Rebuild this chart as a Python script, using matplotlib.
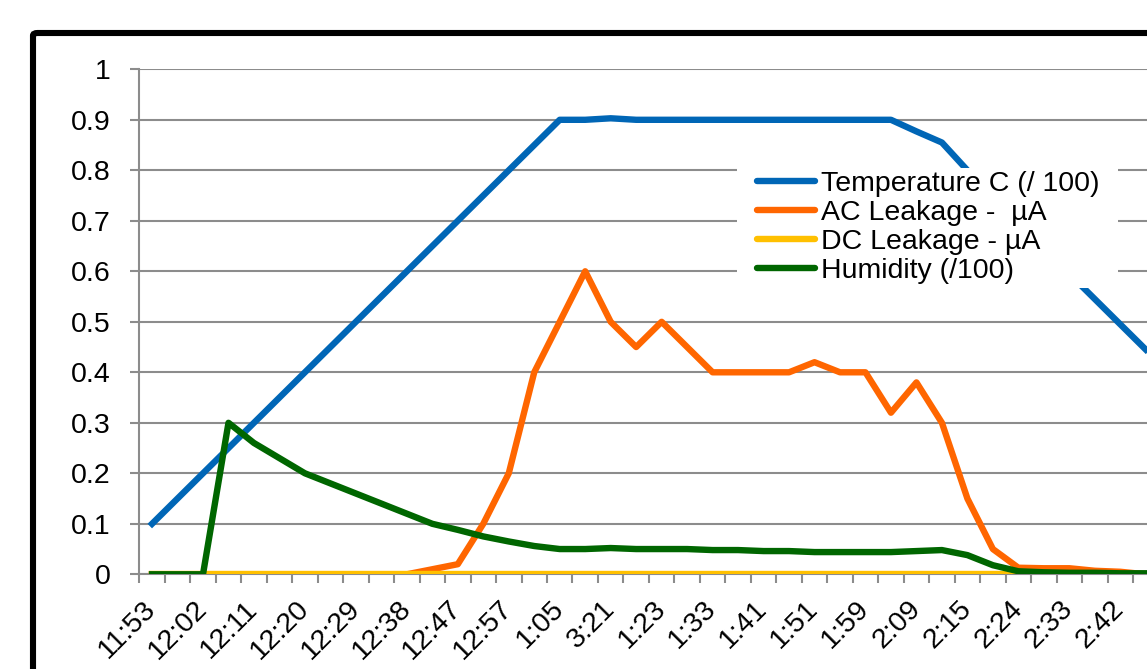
import numpy as np
import matplotlib.pyplot as plt
from matplotlib.patches import FancyBboxPatch, Rectangle

plt.rcParams['font.family'] = ['Liberation Sans', 'DejaVu Sans']

# tick labels, shown on every second reading
time_labels = ['11:53', '12:02', '12:11', '12:20', '12:29', '12:38', '12:47',
               '12:57', '1:05', '3:21', '1:23', '1:33', '1:41', '1:51',
               '1:59', '2:09', '2:15', '2:24', '2:33', '2:42']

temperature = [0.10, 0.15, 0.20, 0.25, 0.30, 0.35, 0.40, 0.45, 0.50, 0.55,
               0.60, 0.65, 0.70, 0.75, 0.80, 0.85, 0.90, 0.90, 0.903, 0.90,
               0.90, 0.90, 0.90, 0.90, 0.90, 0.90, 0.90, 0.90, 0.90, 0.90,
               0.877, 0.855, 0.80, 0.75, 0.70, 0.65, 0.595, 0.545, 0.495, 0.445]
ac_leak = [0, 0, 0, 0, 0, 0, 0, 0, 0, 0,
           0, 0.01, 0.02, 0.10, 0.20, 0.40, 0.50, 0.60, 0.50, 0.45,
           0.50, 0.45, 0.40, 0.40, 0.40, 0.40, 0.42, 0.40, 0.40, 0.32,
           0.38, 0.30, 0.15, 0.05, 0.013, 0.012, 0.012, 0.007, 0.005, 0.0]
dc_leak = [0.0] * 40
humidity = [0, 0, 0, 0.30, 0.26, 0.23, 0.20, 0.18, 0.16, 0.14,
            0.12, 0.10, 0.088, 0.075, 0.065, 0.056, 0.05, 0.05, 0.052, 0.05,
            0.05, 0.05, 0.048, 0.048, 0.046, 0.046, 0.044, 0.044, 0.044, 0.044,
            0.046, 0.048, 0.038, 0.018, 0.006, 0.004, 0.003, 0.003, 0.002, 0.002]

W, H = 1147, 669
fs = 20.5
fig = plt.figure(figsize=(W / 100, H / 100), dpi=100)
fig.patch.set_facecolor('white')

# plot area sits inside a chart frame that runs off the right/bottom edges
ax = fig.add_axes([139.3 / W, 1 - 574.3 / H, 40 * 25.48 / W, 505 / H])

x = np.arange(len(temperature))
lw = 4.6
ax.plot(x, temperature, color='#0066B6', lw=lw, label='Temperature C (/ 100)',
        zorder=3)
ax.plot(x, ac_leak, color='#FF6600', lw=lw, label='AC Leakage -  µA', zorder=3)
ax.plot(x, dc_leak, color='#FFC000', lw=lw, label='DC Leakage - µA', zorder=3)
ax.plot(x, humidity, color='#006600', lw=lw, label='Humidity (/100)', zorder=3)

grey = '#8C8C8C'
ax.set_ylim(0, 1)
ax.set_xlim(-0.5, len(x) - 0.5)
ax.set_yticks(np.arange(0, 1.01, 0.1))
ax.set_yticklabels(['0', '0.1', '0.2', '0.3', '0.4', '0.5', '0.6', '0.7',
                    '0.8', '0.9', '1'])
ax.yaxis.grid(True, color=grey, lw=1.5)
ax.set_axisbelow(True)

ax.set_xticks(np.arange(0, len(x), 2))
ax.set_xticklabels(time_labels, rotation=45, ha='right', va='center',
                   rotation_mode='anchor')
ax.set_xticks(np.arange(-0.5, len(x), 1), minor=True)
ax.tick_params(axis='x', which='major', length=0, pad=22, labelsize=fs)
ax.tick_params(axis='x', which='minor', length=6.5, width=1.5, color=grey,
               direction='out')
ax.tick_params(axis='y', length=6.5, width=1.5, color=grey, pad=14,
               labelsize=fs)

for side in ['top', 'right']:
    ax.spines[side].set_visible(False)
for side in ['left', 'bottom']:
    ax.spines[side].set_color(grey)
    ax.spines[side].set_linewidth(1.5)

# white block behind the legend hides the gridlines and the blue curve
ax.add_patch(Rectangle((737 / W, 1 - 288 / H), (1118 - 737) / W,
                       (288 - 168) / H, transform=fig.transFigure,
                       facecolor='white', edgecolor='none', zorder=4,
                       clip_on=False))
leg = ax.legend(loc='upper left', bbox_to_anchor=(757 / W, 1 - 171 / H),
                bbox_transform=fig.transFigure, frameon=False,
                fontsize=fs, handlelength=2.05, handletextpad=0.2,
                labelspacing=0.11, borderpad=0, borderaxespad=0)
leg.set_zorder(5)
for line in leg.get_lines():
    line.set_linewidth(lw)
    line.set_solid_capstyle('round')

frame = FancyBboxPatch((33 / W, -0.2), 1.2, 0.2 + 1 - 33 / H,
                       boxstyle='round,pad=0,rounding_size=0.004',
                       transform=fig.transFigure, fill=False,
                       edgecolor='black', lw=4.4, clip_on=False)
fig.patches.append(frame)

fig.savefig('out.png', dpi=100)
